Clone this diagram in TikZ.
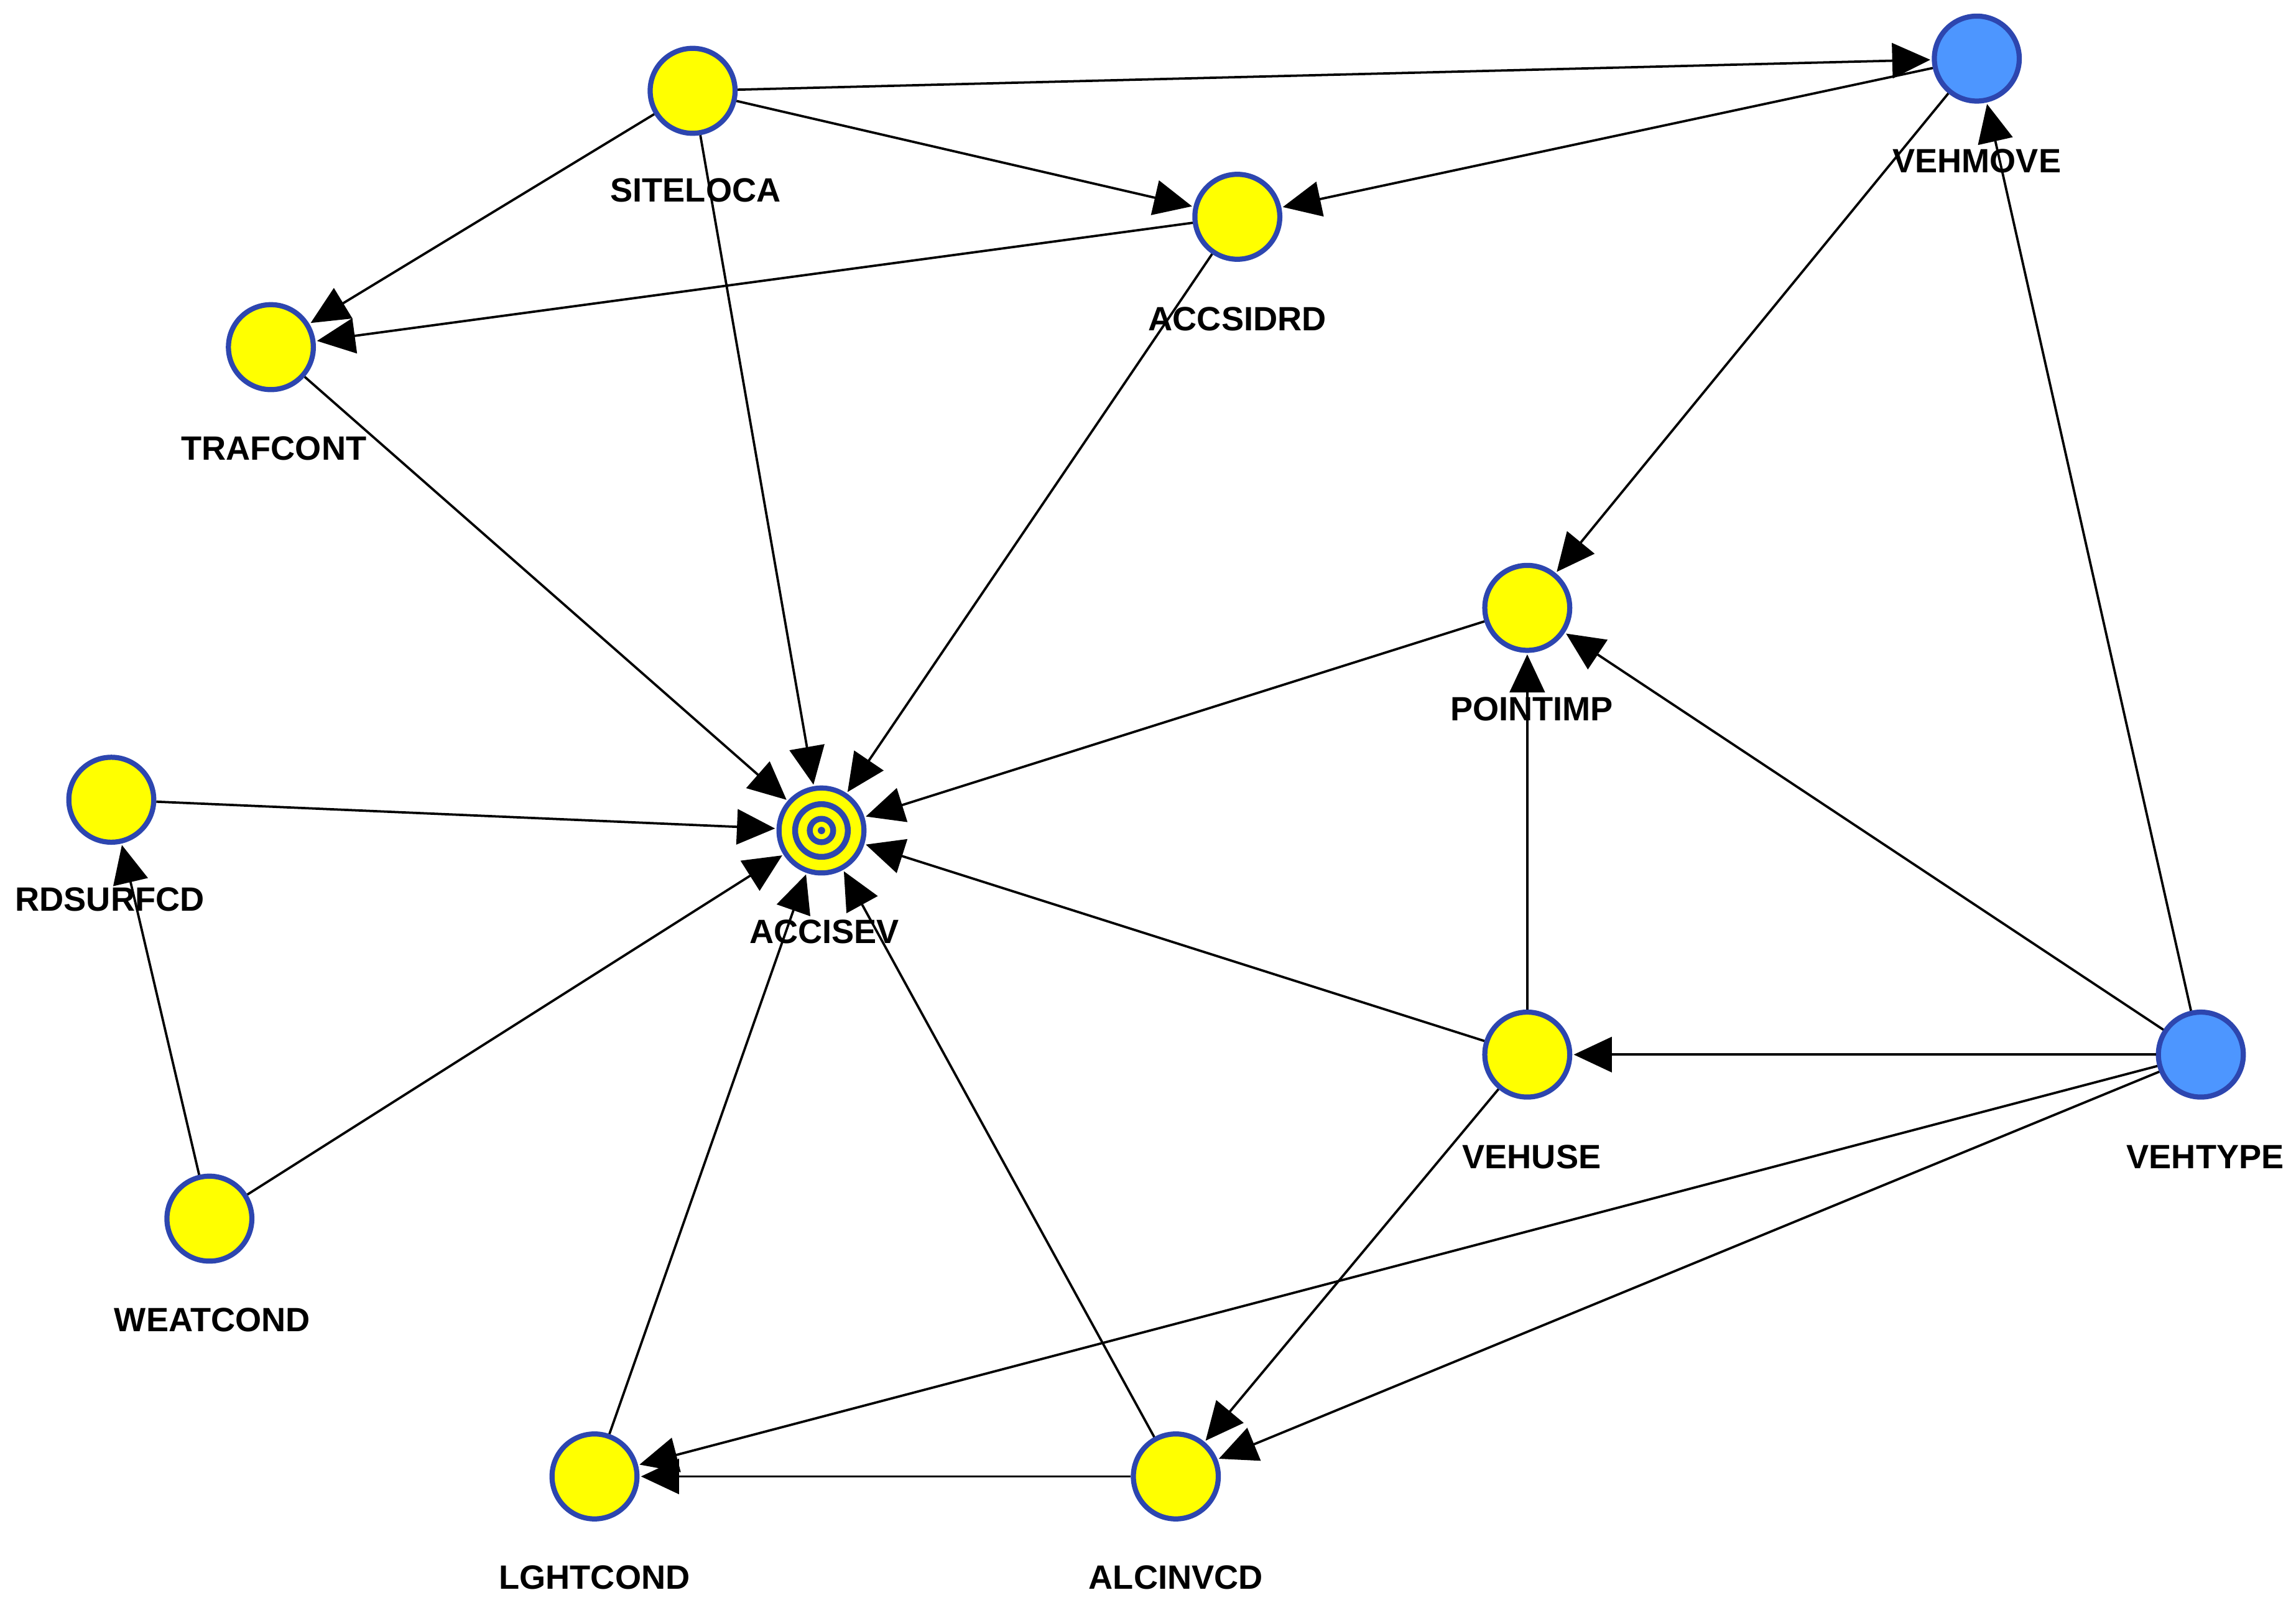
\documentclass[tikz,border=0pt]{standalone}
\usepackage{fontspec}
\setmainfont{Liberation Sans}
\usetikzlibrary{arrows.meta}
\definecolor{ybl}{RGB}{255,255,0}
\definecolor{bbl}{RGB}{77,150,255}
\definecolor{bord}{RGB}{45,70,175}
\begin{document}
\begin{tikzpicture}[x=1pt,y=-1pt,
  nd/.style={circle,draw=bord,line width=3.5pt,fill=ybl,minimum size=58pt,inner sep=0pt},
  bn/.style={nd,fill=bbl},
  lb/.style={font=\bfseries\fontsize{23}{23}\selectfont,text=black},
  ed/.style={line width=1.6pt,-{Triangle[length=26pt,width=24pt]},shorten >=1pt}]
\useasboundingbox (0,0) rectangle (1568,1101);
\node[nd] (SITELOCA) at (473,62) {};
\node[bn] (VEHMOVE) at (1350,40) {};
\node[nd] (ACCSIDRD) at (845,148) {};
\node[nd] (TRAFCONT) at (185,237) {};
\node[nd] (POINTIMP) at (1043,415) {};
\node[nd] (RDSURFCD) at (76,546) {};
\node[nd] (ACCISEV) at (561,567) {};
\node[nd] (VEHUSE) at (1043,720) {};
\node[bn] (VEHTYPE) at (1503,720) {};
\node[nd] (WEATCOND) at (143,832) {};
\node[nd] (LGHTCOND) at (406,1008) {};
\node[nd] (ALCINVCD) at (803,1008) {};
\draw[bord,line width=4pt] (ACCISEV.center) circle (18);
\draw[bord,line width=4pt] (ACCISEV.center) circle (8);
\fill[bord] (ACCISEV.center) circle (2.5);
\node[lb] (l1) at (475,130) {SITELOCA};
\node[lb] (l2) at (1350,110) {VEHMOVE};
\node[lb] (l3) at (845,218) {ACCSIDRD};
\node[lb] (l4) at (187,306) {TRAFCONT};
\node[lb] (l5) at (1046,484) {POINTIMP};
\node[lb] (l6) at (75,614) {RDSURFCD};
\node[lb] (l7) at (563,636) {ACCISEV};
\node[lb] (l8) at (1046,790) {VEHUSE};
\node[lb] (l9) at (1506,790) {VEHTYPE};
\node[lb] (l10) at (145,901) {WEATCOND};
\node[lb] (l11) at (406,1077) {LGHTCOND};
\node[lb] (l12) at (803,1077) {ALCINVCD};
\foreach \a/\b in {SITELOCA/VEHMOVE,SITELOCA/ACCSIDRD,SITELOCA/TRAFCONT,SITELOCA/ACCISEV,
  VEHMOVE/ACCSIDRD,VEHMOVE/POINTIMP,ACCSIDRD/TRAFCONT,ACCSIDRD/ACCISEV,TRAFCONT/ACCISEV,
  POINTIMP/ACCISEV,RDSURFCD/ACCISEV,WEATCOND/RDSURFCD,WEATCOND/ACCISEV,VEHUSE/ACCISEV,
  VEHUSE/POINTIMP,VEHUSE/ALCINVCD,VEHTYPE/VEHMOVE,VEHTYPE/POINTIMP,VEHTYPE/VEHUSE,
  VEHTYPE/LGHTCOND,VEHTYPE/ALCINVCD,LGHTCOND/ACCISEV,ALCINVCD/ACCISEV,ALCINVCD/LGHTCOND}
  \draw[ed] (\a) -- (\b);
\end{tikzpicture}
\end{document}
